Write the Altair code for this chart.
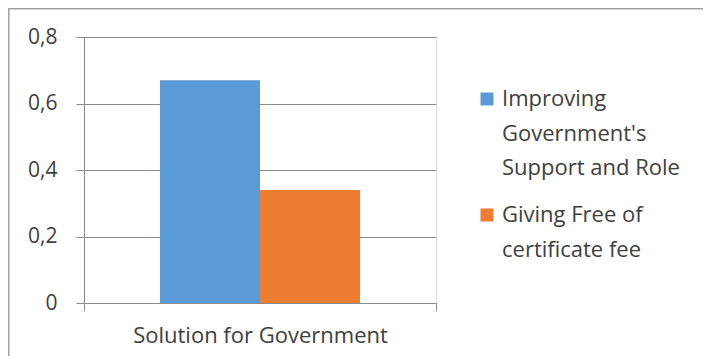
import altair as alt
import pandas as pd

categories = ["Solution for Government"]
series = ["Improving\nGovernment's\nSupport and Role", "Giving Free of\ncertificate fee"]
values = [0.67, 0.34]
colors = ["#5b9bd5", "#ed7d31"]
y_ticks = [0, 0.2, 0.4, 0.6, 0.8]

df = pd.DataFrame({
    "category": [categories[0]] * len(series),
    "series": series,
    "value": values,
})
legend_df = pd.DataFrame({"series": series, "order": list(range(len(series)))})

FONT = "Open Sans"
TXT = "#404040"
GRID = "#8c8c8c"
FS = 22

color_scale = alt.Scale(domain=series, range=colors)

bars = alt.Chart(df).mark_bar().encode(
    x=alt.X("category:N", title=None,
            scale=alt.Scale(paddingInner=0, paddingOuter=0),
            axis=alt.Axis(labelAngle=0, tickBand="extent", tickSize=8,
                          tickColor=GRID, domainColor=GRID, labelPadding=14,
                          labelLimit=600,
                          labelFontSize=FS, labelColor=TXT, labelFont=FONT)),
    xOffset=alt.XOffset("series:N", sort=series,
                        scale=alt.Scale(paddingInner=0, paddingOuter=0.76)),
    y=alt.Y("value:Q", title=None,
            scale=alt.Scale(domain=[0, 0.8], nice=False),
            axis=alt.Axis(values=y_ticks, grid=True, gridColor=GRID,
                          tickSize=8, tickColor=GRID, domainColor=GRID,
                          labelPadding=19, labelFontSize=21, labelColor=TXT,
                          labelFont=FONT,
                          labelExpr="datum.value == 0 ? '0' : replace(format(datum.value, '.1f'), '.', ',')")),
    color=alt.Color("series:N", scale=color_scale, legend=None),
)

legend_y = alt.Y("order:O", scale=alt.Scale(range=[69, 185], padding=0), axis=None)

legend_sym = alt.Chart(legend_df).mark_square(size=169, opacity=1, yOffset=-7).encode(
    x=alt.value(403),
    y=legend_y,
    color=alt.Color("series:N", scale=color_scale, legend=None),
)
legend_txt = alt.Chart(legend_df).mark_text(
    align="left", baseline="alphabetic", lineBreak="\n", lineHeight=34.5,
    font=FONT, fontSize=FS, color=TXT,
).encode(
    x=alt.value(418),
    y=legend_y,
    text="series:N",
)

frame_top = alt.Chart(pd.DataFrame({"k": [0]})).mark_rule(color="#a0a0a0", strokeWidth=1.5).encode(
    x=alt.value(-76), x2=alt.value(700), y=alt.value(-28.2))
frame_left = alt.Chart(pd.DataFrame({"k": [0]})).mark_rule(color="#a0a0a0", strokeWidth=1.5).encode(
    x=alt.value(-75.2), y=alt.value(-29), y2=alt.value(400))

chart = alt.layer(bars, legend_sym, legend_txt, frame_top, frame_left).resolve_scale(
    y="independent"
).properties(
    width=352, height=266,
    autosize=alt.AutoSizeParams(type="none"),
    padding={"left": 76, "top": 29, "right": 267, "bottom": 53},
).configure_view(stroke=None).configure(background="white")

chart.save("out.html", embed_options={"renderer": "svg", "actions": False})
